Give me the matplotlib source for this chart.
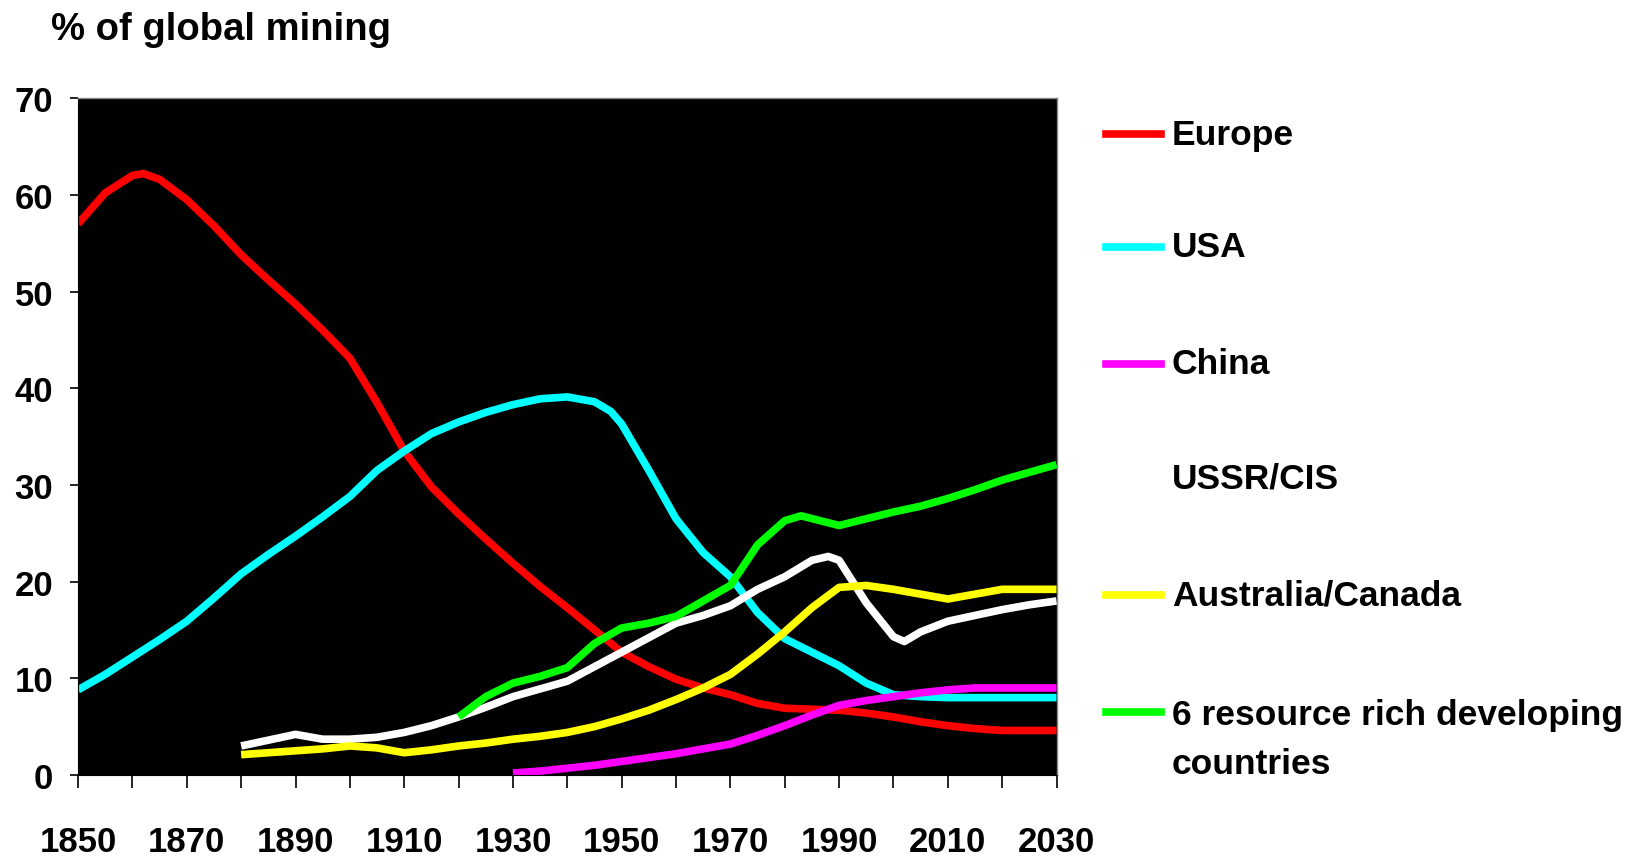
import matplotlib.pyplot as plt
from matplotlib.lines import Line2D

# % of global mining
europe_years = [1850, 1855, 1860, 1862, 1865, 1870, 1875, 1880, 1885, 1890, 1895, 1900,
                1905, 1910, 1915, 1920, 1925, 1930, 1935, 1940, 1945, 1950, 1955, 1960,
                1965, 1970, 1975, 1980, 1985, 1990, 1995, 2000, 2005, 2010, 2015, 2020,
                2025, 2030]
europe = [57, 60.2, 62, 62.2, 61.6, 59.5, 56.8, 53.8, 51.2, 48.7, 46, 43.1, 38.5, 33.5,
          29.8, 27, 24.4, 21.9, 19.5, 17.3, 15, 12.7, 11.2, 9.9, 9, 8.3, 7.4, 6.9,
          6.8, 6.7, 6.4, 6, 5.5, 5.1, 4.8, 4.6, 4.6, 4.6]

usa_years = [1850, 1855, 1860, 1865, 1870, 1875, 1880, 1885, 1890, 1895, 1900, 1905,
             1910, 1915, 1920, 1925, 1930, 1935, 1940, 1945, 1948, 1950, 1955, 1960,
             1965, 1970, 1975, 1980, 1985, 1990, 1995, 2000, 2005, 2010, 2015, 2020,
             2025, 2030]
usa = [8.8, 10.4, 12.2, 14, 15.9, 18.3, 20.8, 22.8, 24.7, 26.7, 28.8, 31.5, 33.5,
       35.3, 36.5, 37.5, 38.3, 38.9, 39.1, 38.6, 37.6, 36.3, 31.5, 26.5, 23, 20.5,
       16.8, 14.1, 12.7, 11.3, 9.5, 8.3, 8.1, 8, 8, 8, 8, 8]

china_years = list(range(1930, 2031, 5))
china = [0.2, 0.4, 0.7, 1, 1.4, 1.8, 2.2, 2.7, 3.2, 4.1, 5.1, 6.2, 7.2, 7.7, 8.1,
         8.5, 8.8, 9, 9, 9, 9]

ussr_years = [1880, 1885, 1890, 1895, 1900, 1905, 1910, 1915, 1920, 1925, 1930, 1935,
              1940, 1945, 1950, 1955, 1960, 1965, 1970, 1975, 1980, 1985, 1988, 1990,
              1995, 2000, 2002, 2005, 2010, 2015, 2020, 2025, 2030]
ussr = [3, 3.6, 4.2, 3.7, 3.7, 3.9, 4.4, 5.1, 6, 7, 8.1, 8.9, 9.7, 11.2, 12.7, 14.2,
        15.7, 16.5, 17.5, 19.2, 20.5, 22.2, 22.6, 22.2, 17.8, 14.3, 13.8, 14.8, 15.9,
        16.5, 17.1, 17.6, 18]

austcan_years = list(range(1880, 2031, 5))
austcan = [2.1, 2.3, 2.5, 2.7, 3, 2.8, 2.3, 2.6, 3, 3.3, 3.7, 4, 4.4, 5, 5.8, 6.7,
           7.8, 9, 10.4, 12.5, 14.8, 17.3, 19.4, 19.6, 19.2, 18.7, 18.2, 18.7, 19.2,
           19.2, 19.2]

dev6_years = [1920, 1925, 1930, 1935, 1940, 1945, 1950, 1955, 1960, 1965, 1970, 1975,
              1980, 1983, 1990, 1995, 2000, 2005, 2010, 2015, 2020, 2025, 2030]
dev6 = [6, 8.1, 9.5, 10.2, 11.1, 13.6, 15.2, 15.7, 16.4, 18, 19.6, 23.8, 26.3, 26.8,
        25.8, 26.5, 27.2, 27.8, 28.6, 29.5, 30.5, 31.3, 32.1]

x_labels = list(range(1850, 2031, 20))
x_minor = list(range(1850, 2031, 10))
y_ticks = list(range(0, 71, 10))

series = [
    ("Europe", europe_years, europe, "#ff0000"),
    ("USA", usa_years, usa, "#00ffff"),
    ("China", china_years, china, "#ff00ff"),
    ("USSR/CIS", ussr_years, ussr, "#ffffff"),
    ("Australia/Canada", austcan_years, austcan, "#ffff00"),
    ("6 resource rich developing\ncountries", dev6_years, dev6, "#00ff00"),
]

font = ["Liberation Sans", "DejaVu Sans"]

fig = plt.figure(figsize=(16.33, 8.62), dpi=100)
ax = fig.add_axes([0.0478, 0.0998, 0.5992, 0.7852])
ax.set_facecolor("black")

for name, xs, ys, col in series:
    ax.plot(xs, ys, color=col, lw=5.5, solid_capstyle="butt", solid_joinstyle="round")

ax.set_xlim(1850, 2030)
ax.set_ylim(0, 70)
ax.set_xticks(x_labels)
ax.set_xticks(x_minor, minor=True)
ax.set_yticks(y_ticks)
ax.tick_params(axis="x", which="both", length=9, width=1.2, pad=27)
ax.tick_params(axis="y", length=6, width=1.2, pad=12)
for lab in ax.get_xticklabels() + ax.get_yticklabels():
    lab.set_family(font)
    lab.set_fontweight("bold")
    lab.set_fontsize(25)
for s in ["top", "right"]:
    ax.spines[s].set_color("#888888")
    ax.spines[s].set_linewidth(1)

fig.text(0.031, 0.965, "% of global mining", family=font, fontweight="bold",
         fontsize=27.5, va="center", ha="left")

# legend drawn by hand so the swatch lines up with the first text line
leg_y = [135, 248, 365, 479, 596, 713]
for (name, xs, ys, col), yp in zip(series, leg_y):
    yf = 1 - yp / 862
    fig.add_artist(Line2D([1106 / 1633, 1161 / 1633], [yf, yf], color=col, lw=5.5))
    if "\n" in name:
        fig.text(1172 / 1633, 1 - (yp - 14) / 862, name, family=font, fontweight="bold",
                 fontsize=25.5, va="top", ha="left", linespacing=1.62)
    else:
        fig.text(1172 / 1633, yf, name, family=font, fontweight="bold", fontsize=25.5,
                 va="center", ha="left")

fig.savefig("out.png", dpi=100)
